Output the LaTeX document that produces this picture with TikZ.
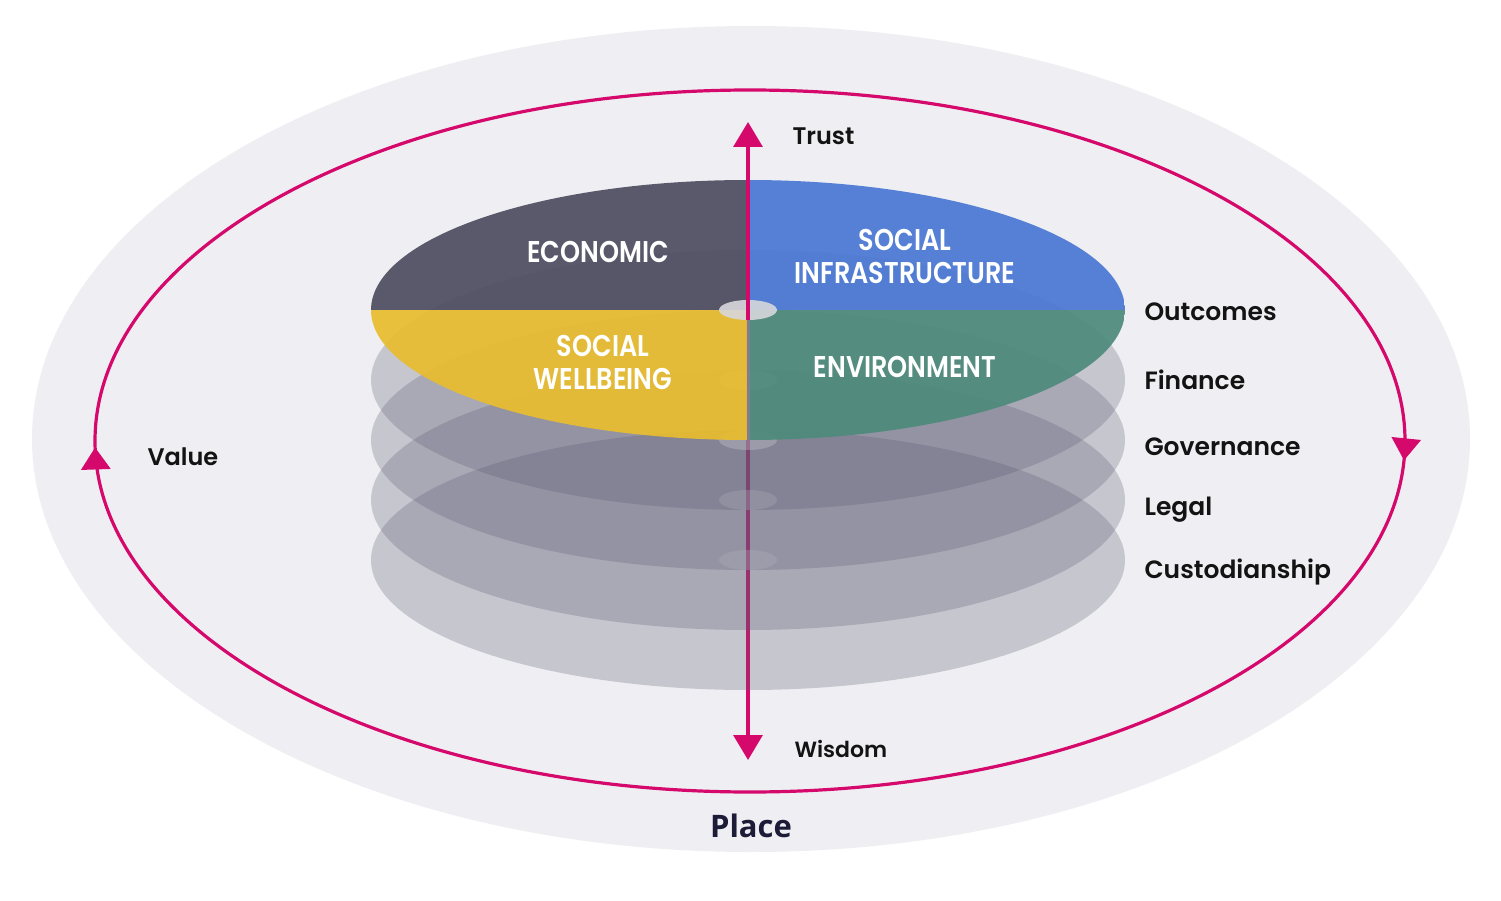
\documentclass[tikz,border=0pt]{standalone}
\usepackage{fontspec}
\setmainfont{Poppins}
\newfontfamily\labelfont{Poppins SemiBold}
\newfontfamily\capsfont[FakeStretch=0.85]{Poppins SemiBold}
\newfontfamily\placefont{Open Sans}
\usetikzlibrary{arrows.meta,decorations.markings,positioning}

\definecolor{ringpink}{HTML}{D5086B}
\definecolor{placegrey}{HTML}{EFEFF3}
\definecolor{discgrey}{HTML}{5E5D75}
\definecolor{econcol}{HTML}{4F4E61}
\definecolor{infracol}{HTML}{4A78D3}
\definecolor{wellcol}{HTML}{E8BD2F}
\definecolor{envcol}{HTML}{4E8B7C}
\definecolor{labelblack}{HTML}{131313}
\definecolor{placeblue}{HTML}{1C1C38}

\begin{document}
\begin{tikzpicture}[x=1pt, y=-1pt,
    disc/.style={fill=discgrey, fill opacity=0.28},
    hole/.style={fill=white, fill opacity=0.3},
    quadlabel/.style={text=white, align=center, font=\capsfont\fontsize{30}{33}\selectfont},
    sidelabel/.style={anchor=base west, text=labelblack, font=\labelfont\fontsize{25}{30}\selectfont},
    axislabel/.style={anchor=base west, text=labelblack, font=\labelfont\fontsize{24}{28}\selectfont},
    pinkline/.style={draw=ringpink, line width=3.2pt},
    >={Triangle[width=29pt, length=25pt]}]

    \useasboundingbox (0,0) rectangle (1501,901);
    \fill[white] (0,0) rectangle (1501,901);

    % place
    \fill[placegrey] (751,439) ellipse [x radius=719, y radius=413];
    \node[anchor=base, text=placeblue, font=\placefont\bfseries\fontsize{31}{36}\selectfont] (place) at (751,837) {Place};

    % value ring
    \draw[pinkline, postaction={decorate}, decoration={markings,
        mark=at position 0.006 with {\arrow{Triangle[width=29pt, length=22pt]}},
        mark=at position 0.498 with {\arrow{Triangle[width=29pt, length=22pt]}}}]
        (750,441) ellipse [x radius=655, y radius=351];
    \node[axislabel] (value) at (144,465) {Value};

    % trust / wisdom axis
    \coordinate (trusttip) at (748,122);
    \coordinate (wisdomtip) at (748,760);
    \coordinate (hub) at (748,320);
    \coordinate (frontedge) at (748,440);
    \draw[pinkline, <->] (wisdomtip) -- (trusttip);
    \node[axislabel] (trust) at (789,145) {Trust};
    \node[axislabel, font=\labelfont\fontsize{22}{28}\selectfont] (wisdom) at (791,757) {Wisdom};

    % layers
    \foreach \yy in {560,500,440,380} {
        \fill[disc] (748,\yy) ellipse [x radius=377, y radius=130];
        \fill[hole] (748,\yy) ellipse [x radius=29, y radius=10];
    }

    % top layer
    \begin{scope}[fill opacity=0.93]
        \clip (748,310) ellipse [x radius=377, y radius=130];
        \fill[wellcol] (371,310) rectangle (748,440);
        \fill[envcol] (748,310) rectangle (1125,440);
        \fill[econcol] (371,180) rectangle (748,310);
        \fill[infracol] (748,180) rectangle (1125,310);
    \end{scope}
    \draw[draw=discgrey!80, line width=3pt] (hub) -- (frontedge);
    \fill[fill=white!75!discgrey, fill opacity=0.9] (748,310) ellipse [x radius=29, y radius=10];
    \draw[pinkline, shorten >=24pt] (hub) -- (trusttip);

    \node[quadlabel] (economic) at (598,252) {ECONOMIC};
    \node[quadlabel] (socinfra) at (905,256) {SOCIAL\\INFRASTRUCTURE};
    \node[quadlabel] (wellbeing) at (603,362) {SOCIAL\\WELLBEING};
    \node[quadlabel] (environment) at (905,367) {ENVIRONMENT};

    % layer names
    \foreach \name/\txt/\yb in {outcomes/Outcomes/320, finance/Finance/389,
        governance/Governance/455, legal/Legal/515, custody/Custodianship/578} {
        \node[sidelabel] (\name) at (1141,\yb) {\txt};
    }
\end{tikzpicture}
\end{document}
